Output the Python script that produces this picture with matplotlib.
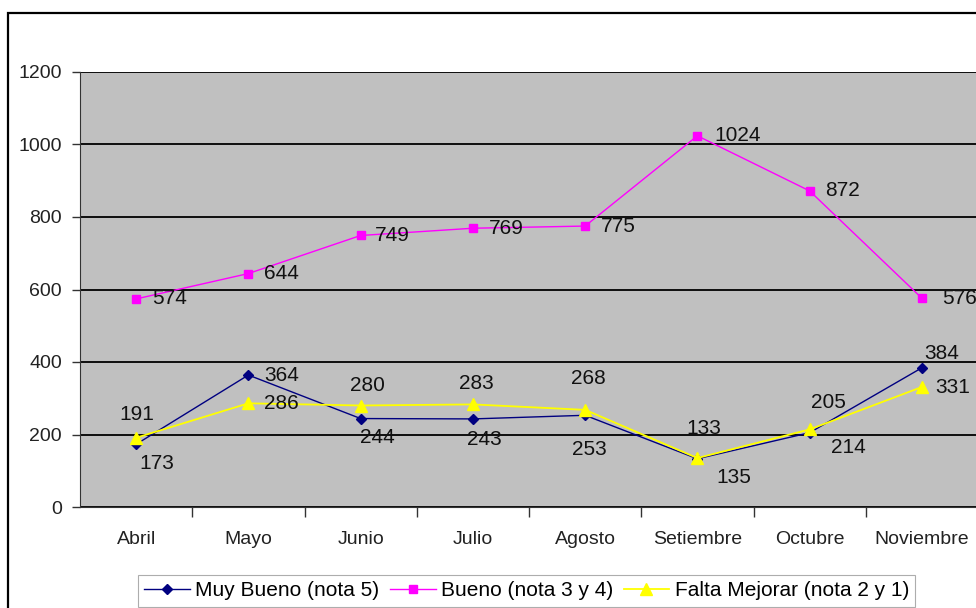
import numpy as np
import matplotlib.pyplot as plt
from matplotlib.patches import Rectangle

# data
months = ['Abril', 'Mayo', 'Junio', 'Julio', 'Agosto', 'Setiembre', 'Octubre', 'Noviembre']
muy_bueno = [173, 364, 244, 243, 253, 133, 205, 384]
bueno = [574, 644, 749, 769, 775, 1024, 872, 576]
falta_mejorar = [191, 286, 280, 283, 268, 135, 214, 331]

# label offsets (pixels) for each point, hand placed like the original
mb_off = [(21, -19), (33, 0), (17, -19), (12, -21), (4, -34), (6, 30), (19, 30), (20, 14)]
b_off = [(33, 0), (33, 0), (32, 0), (33, 0), (33, 0), (40, 0), (33, 0), (38, 0)]
fm_off = [(1, 23), (33, 0), (7, 20), (4, 21), (3, 31), (36, -19), (39, -18), (31, 0)]

plt.rcParams['font.family'] = ['Liberation Sans', 'DejaVu Sans']

W, H = 976, 608
fig = plt.figure(figsize=(W/100, H/100), dpi=100)
fig.patches.append(Rectangle((8/W, -0.1), 1.2, (H-13)/H + 0.1, transform=fig.transFigure,
                             fill=False, edgecolor='black', linewidth=1.6))

ax = fig.add_axes([80/W, (H-507)/H, (978-80)/W, (507-72)/H])
ax.set_facecolor('#C0C0C0')
x = np.arange(len(months))

ax.plot(x, muy_bueno, color='#000080', marker='D', markersize=5, linewidth=1,
        label='Muy Bueno (nota 5)', zorder=4)
ax.plot(x, bueno, color='#FF00FF', marker='s', markersize=6, linewidth=1,
        label='Bueno (nota 3 y 4)', zorder=4)
ax.plot(x, falta_mejorar, color='#FFFF00', marker='^', markersize=8, linewidth=1.3,
        label='Falta Mejorar (nota 2 y 1)', zorder=5)

for vals, offs in [(muy_bueno, mb_off), (bueno, b_off), (falta_mejorar, fm_off)]:
    for i, (v, o) in enumerate(zip(vals, offs)):
        ax.annotate(str(v), (x[i], v), xytext=o, textcoords='offset pixels',
                    ha='center', va='center', fontsize=15, color='#111111',
                    annotation_clip=False, zorder=6)

ax.set_xlim(-0.5, len(months) - 0.5)
ax.set_ylim(0, 1200)
ax.set_yticks(range(0, 1201, 200))
ax.yaxis.grid(True, color='black', linewidth=1.3)
ax.set_axisbelow(True)
ax.set_xticks(x)
ax.set_xticklabels(months)
ax.set_xticks(np.arange(0.5, len(months) - 0.5), minor=True)
ax.tick_params(axis='x', which='major', length=0, labelsize=14, pad=17, labelcolor='#222222')
ax.tick_params(axis='x', which='minor', length=7, width=1, color='#333333')
ax.tick_params(axis='y', length=6, width=1, labelsize=14, pad=7, color='#333333',
               labelcolor='#222222')
for s in ['top', 'right']:
    ax.spines[s].set_visible(False)
ax.spines['left'].set_color('#333333')
ax.spines['bottom'].set_color('#333333')

leg = fig.legend(loc='upper left', bbox_to_anchor=(138/W, 1 - 575/H), ncol=3,
                 frameon=True, fancybox=False, edgecolor='#999999', fontsize=15,
                 handlelength=2.2, handletextpad=0.25, columnspacing=0.5,
                 borderpad=0.3, borderaxespad=0)
leg.get_frame().set_linewidth(0.8)

fig.savefig('out.png', dpi=100, facecolor='white')
